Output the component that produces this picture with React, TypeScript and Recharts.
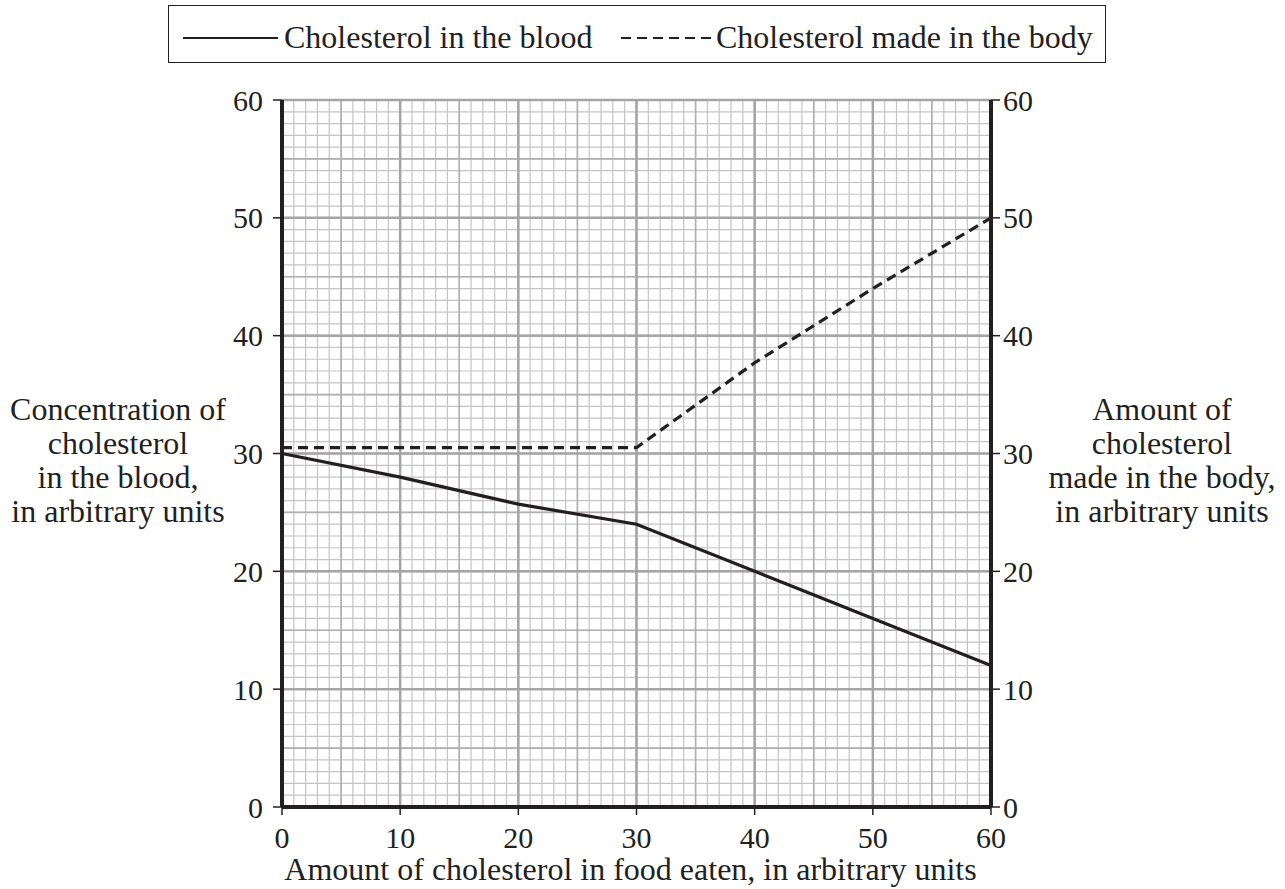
import { LineChart, Line, XAxis, YAxis, CartesianGrid, Label } from 'recharts';

// amount of cholesterol in food eaten (x) and the two series
const foodEaten = [0, 10, 20, 30, 40, 50, 60];
const bloodCholesterol = [30, 28, 25.7, 24, 20, 16, 12];
const bodyCholesterol = [30.5, 30.5, 30.5, 30.5, 37.7, 44, 50];
const axisTicks = [0, 10, 20, 30, 40, 50, 60];

const leftTitle = ['Concentration of', 'cholesterol', 'in the blood,', 'in arbitrary units'];
const rightTitle = ['Amount of', 'cholesterol', 'made in the body,', 'in arbitrary units'];
const xTitle = 'Amount of cholesterol in food eaten, in arbitrary units';
const legendNames = ['Cholesterol in the blood', 'Cholesterol made in the body'];

const data = foodEaten.map((x, i) => ({
    x,
    blood: bloodCholesterol[i],
    body: bodyCholesterol[i],
}));

// graph paper lines
const minorLines = Array.from({ length: 61 }, (_, i) => i);
const fiveLines = minorLines.filter((v) => v % 5 === 0);
const tenLines = minorLines.filter((v) => v % 10 === 0);

const FONT = "'Liberation Serif', 'Times New Roman', serif";
const INK = '#231f20';

function StackedTitle({ viewBox, lines, dx }: any) {
    const cx = viewBox.x + dx;
    return (
        <text x={cx} y={420} textAnchor="middle" fontFamily={FONT} fontSize={32} fill={INK}>
            {lines.map((l: string, i: number) => (
                <tspan key={i} x={cx} dy={i === 0 ? 0 : 34}>
                    {l}
                </tspan>
            ))}
        </text>
    );
}

function XTitle({ viewBox }: any) {
    return (
        <text
            x={viewBox.x + viewBox.width / 2 - 6}
            y={viewBox.y + 73}
            textAnchor="middle"
            fontFamily={FONT}
            fontSize={32}
            fill={INK}
        >
            {xTitle}
        </text>
    );
}

function ChartLegend() {
    return (
        <div
            style={{
                position: 'absolute',
                left: 168,
                top: 5,
                width: 938,
                height: 58,
                border: `1.5px solid ${INK}`,
                boxSizing: 'border-box',
            }}
        >
            <svg width={938} height={58} style={{ position: 'absolute', left: 0, top: 0 }}>
                <line x1={14} x2={109} y1={32} y2={32} stroke={INK} strokeWidth={2} />
                <line x1={452} x2={544} y1={32} y2={32} stroke={INK} strokeWidth={2} strokeDasharray="10 6" />
                <text x={115} y={42} fontFamily={FONT} fontSize={32} fill={INK}>
                    {legendNames[0]}
                </text>
                <text x={547} y={42} fontFamily={FONT} fontSize={32} fill={INK}>
                    {legendNames[1]}
                </text>
            </svg>
        </div>
    );
}

export default function App() {
    const tickStyle = { fill: INK, fontSize: 30, fontFamily: FONT };
    return (
        <div style={{ position: 'absolute', left: 0, top: 0, width: 1285, height: 889, background: '#fff' }}>
            <ChartLegend />
            <LineChart
                width={1285}
                height={889}
                data={data}
                margin={{ top: 100, right: 10, bottom: 0, left: 10 }}
            >
                <CartesianGrid
                    yAxisId="left"
                    horizontalValues={minorLines}
                    verticalValues={minorLines}
                    stroke="#c4c4c4"
                    strokeWidth={1.2}
                />
                <CartesianGrid
                    yAxisId="left"
                    horizontalValues={fiveLines}
                    verticalValues={fiveLines}
                    stroke="#b0b0b0"
                    strokeWidth={1.6}
                />
                <CartesianGrid
                    yAxisId="left"
                    horizontalValues={tenLines}
                    verticalValues={tenLines}
                    stroke="#a5a5a5"
                    strokeWidth={2.5}
                />
                <XAxis
                    dataKey="x"
                    type="number"
                    domain={[0, 60]}
                    ticks={axisTicks}
                    interval={0}
                    height={82}
                    axisLine={{ stroke: INK, strokeWidth: 4 }}
                    tickLine={{ stroke: INK, strokeWidth: 1.5 }}
                    tickSize={8}
                    tickMargin={12}
                    tick={tickStyle}
                >
                    <Label content={<XTitle />} />
                </XAxis>
                <YAxis
                    yAxisId="left"
                    domain={[0, 60]}
                    ticks={axisTicks}
                    interval={0}
                    width={272}
                    axisLine={{ stroke: INK, strokeWidth: 4 }}
                    tickLine={{ stroke: INK, strokeWidth: 1.5 }}
                    tickSize={9}
                    tickMargin={10}
                    tick={tickStyle}
                >
                    <Label content={<StackedTitle lines={leftTitle} dx={108} />} />
                </YAxis>
                <YAxis
                    yAxisId="right"
                    orientation="right"
                    domain={[0, 60]}
                    ticks={axisTicks}
                    interval={0}
                    width={284}
                    axisLine={{ stroke: INK, strokeWidth: 4 }}
                    tickLine={{ stroke: INK, strokeWidth: 1.5 }}
                    tickSize={9}
                    tickMargin={3}
                    tick={{ ...tickStyle, textAnchor: 'start' }}
                >
                    <Label content={<StackedTitle lines={rightTitle} dx={171} />} />
                </YAxis>
                <Line
                    yAxisId="left"
                    type="linear"
                    dataKey="blood"
                    stroke={INK}
                    strokeWidth={3.2}
                    dot={false}
                    isAnimationActive={false}
                />
                <Line
                    yAxisId="right"
                    type="linear"
                    dataKey="body"
                    stroke={INK}
                    strokeWidth={3.2}
                    strokeDasharray="10 6"
                    dot={false}
                    isAnimationActive={false}
                />
            </LineChart>
        </div>
    );
}
